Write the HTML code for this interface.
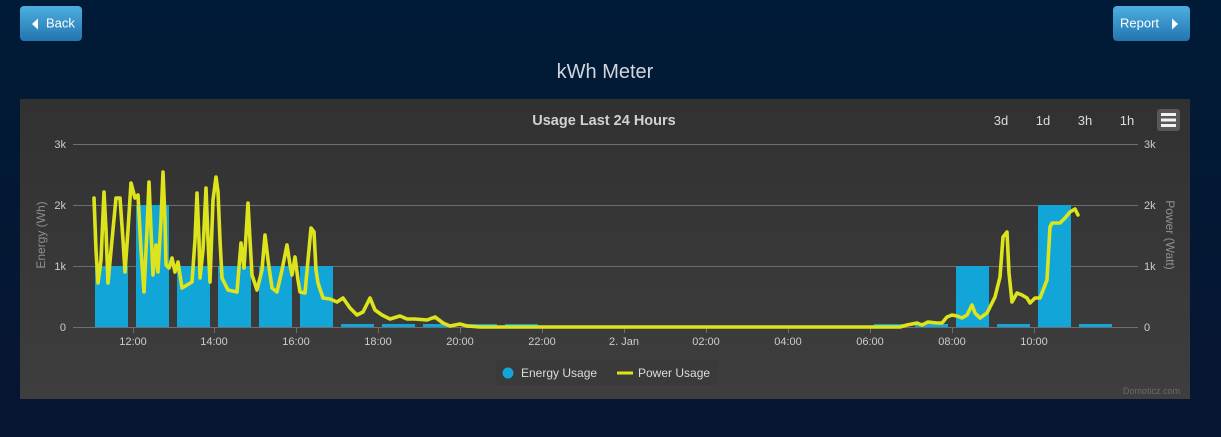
<!DOCTYPE html>
<html><head><meta charset="utf-8"><style>
html,body{margin:0;padding:0;width:1221px;height:437px;overflow:hidden;background:#04182f;}
svg{display:block;font-family:"Liberation Sans",Arial,sans-serif;}
</style></head><body>
<svg width="1221" height="437" viewBox="0 0 1221 437" xmlns="http://www.w3.org/2000/svg">
<defs>
<linearGradient id="bg" x1="0" y1="0" x2="0" y2="1"><stop offset="0" stop-color="#001b37"/><stop offset="1" stop-color="#071532"/></linearGradient>
<linearGradient id="btn" x1="0" y1="0" x2="0" y2="1"><stop offset="0" stop-color="#4cafdf"/><stop offset="1" stop-color="#2474b0"/></linearGradient>
<linearGradient id="panel" x1="0" y1="0" x2="0" y2="1"><stop offset="0" stop-color="#313131"/><stop offset="1" stop-color="#3e3e3e"/></linearGradient>
</defs>
<rect x="0" y="0" width="1221" height="437" fill="url(#bg)"/>
<!-- buttons -->
<rect x="20" y="6" width="62" height="35" rx="4" fill="url(#btn)"/>
<polygon points="38,18.5 38,29.5 32,24" fill="#fff"/>
<text x="46" y="27.5" font-size="13" fill="#fff">Back</text>
<rect x="1113" y="6" width="77" height="35" rx="4" fill="url(#btn)"/>
<text x="1120" y="27.5" font-size="13" fill="#fff">Report</text>
<polygon points="1172,18.5 1172,29.5 1178,24" fill="#fff"/>
<text x="605" y="78" font-size="20" fill="#cfd6de" text-anchor="middle">kWh Meter</text>
<!-- panel -->
<rect x="20" y="99" width="1170" height="300" fill="url(#panel)"/>
<text x="604" y="125" font-size="14.5" font-weight="bold" fill="#d2d2d2" text-anchor="middle">Usage Last 24 Hours</text>
<g font-size="13" fill="#dcdcdc" text-anchor="middle">
<text x="1001" y="125">3d</text><text x="1043" y="125">1d</text><text x="1085" y="125">3h</text><text x="1127" y="125">1h</text>
</g>
<rect x="1157" y="109" width="23" height="22" rx="3" fill="#585858"/>
<rect x="1161" y="113" width="15" height="3" fill="#f2f2f2"/>
<rect x="1161" y="118.5" width="15" height="3" fill="#f2f2f2"/>
<rect x="1161" y="124" width="15" height="3" fill="#f2f2f2"/>
<!-- grid -->
<g stroke="#6e6e6e" stroke-width="1">
<line x1="73" y1="144.5" x2="1138" y2="144.5"/>
<line x1="73" y1="205.5" x2="1138" y2="205.5"/>
<line x1="73" y1="266.5" x2="1138" y2="266.5"/>
<line x1="73" y1="327.5" x2="1138" y2="327.5"/>
</g>
<g stroke="#6e6e6e" stroke-width="1">
<line x1="133.5" y1="327" x2="133.5" y2="333"/><line x1="214.5" y1="327" x2="214.5" y2="333"/><line x1="296.5" y1="327" x2="296.5" y2="333"/><line x1="378.5" y1="327" x2="378.5" y2="333"/><line x1="460.5" y1="327" x2="460.5" y2="333"/><line x1="542.5" y1="327" x2="542.5" y2="333"/><line x1="624.5" y1="327" x2="624.5" y2="333"/><line x1="706.5" y1="327" x2="706.5" y2="333"/><line x1="788.5" y1="327" x2="788.5" y2="333"/><line x1="870.5" y1="327" x2="870.5" y2="333"/><line x1="952.5" y1="327" x2="952.5" y2="333"/><line x1="1034.5" y1="327" x2="1034.5" y2="333"/>
</g>
<g font-size="11" fill="#cccccc" text-anchor="end">
<text x="66" y="148">3k</text><text x="66" y="209">2k</text><text x="66" y="270">1k</text><text x="66" y="331">0</text>
</g>
<g font-size="11" fill="#cccccc">
<text x="1144" y="148">3k</text><text x="1144" y="209">2k</text><text x="1144" y="270">1k</text><text x="1144" y="331">0</text>
</g>
<g font-size="11" fill="#cccccc" text-anchor="middle">
<text x="133" y="345">12:00</text><text x="214" y="345">14:00</text><text x="296" y="345">16:00</text><text x="378" y="345">18:00</text><text x="460" y="345">20:00</text><text x="542" y="345">22:00</text><text x="624" y="345">2. Jan</text><text x="706" y="345">02:00</text><text x="788" y="345">04:00</text><text x="870" y="345">06:00</text><text x="952" y="345">08:00</text><text x="1034" y="345">10:00</text>
</g>
<text font-size="12" fill="#8f8f8f" text-anchor="middle" transform="translate(45,235) rotate(-90)">Energy (Wh)</text>
<text font-size="12" fill="#8f8f8f" text-anchor="middle" transform="translate(1166,235) rotate(90)">Power (Watt)</text>
<!-- bars -->
<g fill="#12a5d8">
<rect x="95" y="266" width="33" height="61"/>
<rect x="136" y="205" width="33" height="122"/>
<rect x="177" y="266" width="33" height="61"/>
<rect x="218" y="266" width="33" height="61"/>
<rect x="259" y="266" width="33" height="61"/>
<rect x="300" y="266" width="33" height="61"/>
<rect x="341" y="324" width="33" height="3"/>
<rect x="382" y="324" width="33" height="3"/>
<rect x="423" y="324" width="33" height="3"/>
<rect x="464" y="324" width="33" height="3"/>
<rect x="505" y="324" width="33" height="3"/>
<rect x="874" y="324" width="33" height="3"/>
<rect x="915" y="324" width="33" height="3"/>
<rect x="956" y="266" width="33" height="61"/>
<rect x="997" y="324" width="33" height="3"/>
<rect x="1038" y="205" width="33" height="122"/>
<rect x="1079" y="324" width="33" height="3"/>
</g>
<!-- line -->
<polyline fill="none" stroke="#dde41c" stroke-width="3.6" stroke-linejoin="round" stroke-linecap="round" points="94,198 96,250 98,283 101,260 104,192 106,230 108,283 112,240 116,198 120,198 123,240 125,272 128,230 131,183 135,198 138,195 141,250 144,292 147,230 149,182 151,230 153,275 156,245 158,272 161,220 163,172 165,220 166,265 169,268 172,258 175,272 178,262 182,288 187,285 192,282 195,240 197,193 199,240 200,278 203,250 206,188 208,240 210,282 213,200 216,177 218,192 220,240 222,278 228,290 237,292 241,243 244,268 248,203 250,240 252,275 257,290 262,270 265,235 268,260 272,288 277,292 282,270 287,245 290,265 292,275 295,257 298,280 300,292 305,293 308,260 311,228 314,232 316,270 318,283 323,298 330,299 337,302 343,298 350,308 357,315 363,312 370,298 375,310 382,315 390,319 400,316 407,319 415,319 427,320 435,317 443,323 450,326 460,324 467,326 480,327 900,327 907,325 917,323 922,325 928,322 937,323 942,323 947,317 952,315 957,316 962,318 967,315 972,305 975,313 980,318 987,313 995,297 1000,277 1003,237 1007,232 1009,273 1012,302 1017,293 1022,295 1027,298 1030,303 1035,298 1040,298 1047,280 1050,227 1052,223 1060,223 1065,218 1070,212 1075,209 1078,215"/>
<!-- legend -->
<rect x="496" y="360" width="222" height="25" fill="#3a3a3a"/>
<circle cx="508" cy="373" r="5.5" fill="#12a5d8"/>
<text x="521" y="377" font-size="12" fill="#dcdcdc">Energy Usage</text>
<rect x="617" y="371.5" width="16" height="3" fill="#dde41c"/>
<text x="638" y="377" font-size="12" fill="#dcdcdc">Power Usage</text>
<text x="1180" y="394" font-size="9" fill="#6a6a6a" text-anchor="end">Domoticz.com</text>
</svg>
</body></html>
